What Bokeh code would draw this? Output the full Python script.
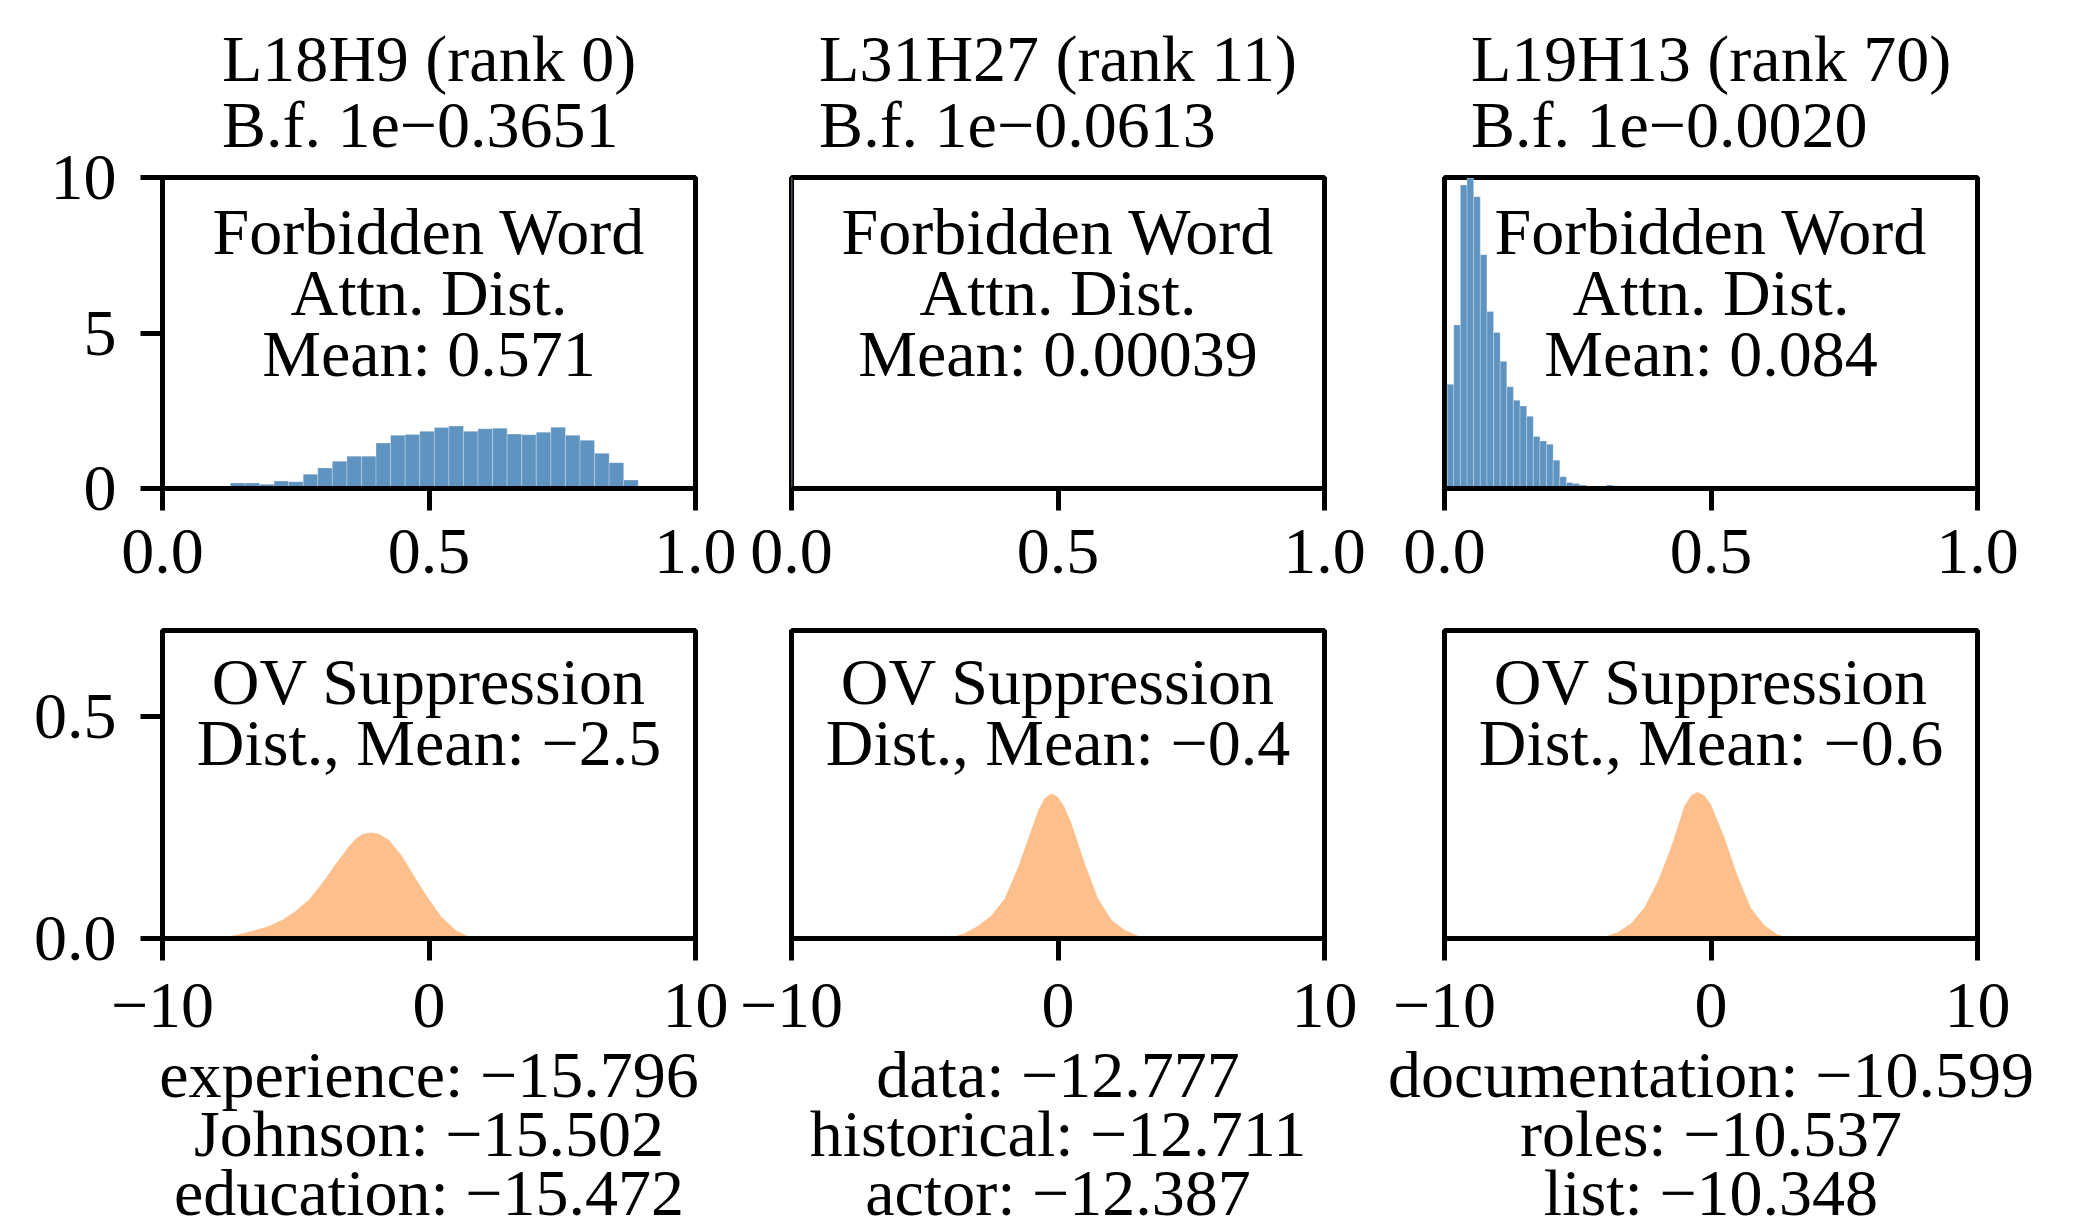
from bokeh.plotting import figure
from bokeh.layouts import row, column
from bokeh.models import FixedTicker, Label, Range1d
from bokeh.embed import file_html
from bokeh.resources import INLINE

# ---------------- data ----------------
head_names = ["L18H9 (rank 0)", "L31H27 (rank 11)", "L19H13 (rank 70)"]
bf_values = ["1e−0.3651", "1e−0.0613", "1e−0.0020"]
attn_means = ["0.571", "0.00039", "0.084"]
ov_means = ["−2.5", "−0.4", "−0.6"]

top_words = [["experience", "Johnson", "education"],
             ["data", "historical", "actor"],
             ["documentation", "roles", "list"]]
top_scores = [["−15.796", "−15.502", "−15.472"],
              ["−12.777", "−12.711", "−12.387"],
              ["−10.599", "−10.537", "−10.348"]]

# Forbidden-word attention histograms (density), bin start / width / heights
attn_bin_start = [0.100, 0.000, 0.005]
attn_bin_width = [0.02733, 0.001, 0.01243]
attn_L18H9 = [0.05, 0.18, 0.18, 0.14, 0.24, 0.22, 0.46, 0.66, 0.88, 1.04,
              1.04, 1.46, 1.71, 1.74, 1.84, 1.96, 2.01, 1.84, 1.92, 1.94,
              1.75, 1.73, 1.81, 1.97, 1.71, 1.55, 1.13, 0.83, 0.27, 0.05]
attn_L31H27 = [1000.0]
attn_L19H13 = [3.35, 5.26, 9.76, 9.98, 9.38, 7.52, 5.69, 5.02, 4.09, 3.27,
               2.84, 2.65, 2.32, 1.67, 1.53, 1.42, 0.91, 0.38, 0.19, 0.16,
               0.11, 0.08, 0.08, 0.03, 0.11, 0.09, 0.03]
attn_heights = [attn_L18H9, attn_L31H27, attn_L19H13]

# OV suppression distributions (density)
ov_x_L18H9 = [-8.5, -8.0, -7.5, -7.0, -6.5, -6.0, -5.5, -5.0, -4.5, -4.0, -3.5,
              -3.0, -2.75, -2.5, -2.2, -1.9, -1.5, -1.0, -0.5, 0.0, 0.5, 1.0, 1.5, 2.0]
ov_y_L18H9 = [0.0, 0.001, 0.005, 0.011, 0.019, 0.028, 0.042, 0.062, 0.088, 0.125, 0.168,
              0.208, 0.225, 0.235, 0.239, 0.236, 0.222, 0.185, 0.135, 0.088, 0.047, 0.019, 0.004, 0.0]
ov_x_L31H27 = [-4.5, -4.0, -3.5, -3.0, -2.5, -2.0, -1.5, -1.0, -0.75, -0.5, -0.25,
               0.0, 0.25, 0.5, 1.0, 1.5, 2.0, 2.5, 3.0, 3.5]
ov_y_L31H27 = [0.0, 0.003, 0.012, 0.028, 0.052, 0.090, 0.160, 0.245, 0.288, 0.316, 0.327,
               0.319, 0.296, 0.260, 0.170, 0.090, 0.042, 0.019, 0.006, 0.0]
ov_x_L19H13 = [-4.5, -4.0, -3.5, -3.0, -2.5, -2.0, -1.5, -1.0, -0.75, -0.5, -0.25,
               0.0, 0.5, 1.0, 1.5, 2.0, 2.5, 3.0]
ov_y_L19H13 = [0.0, 0.004, 0.014, 0.034, 0.070, 0.128, 0.205, 0.298, 0.322, 0.330, 0.322,
               0.302, 0.228, 0.140, 0.068, 0.030, 0.009, 0.0]
ov_xs = [ov_x_L18H9, ov_x_L31H27, ov_x_L19H13]
ov_ys = [ov_y_L18H9, ov_y_L31H27, ov_y_L19H13]

attn_xticks = [0.0, 0.5, 1.0]
attn_xtick_labels = ["0.0", "0.5", "1.0"]
attn_yticks = [0, 5, 10]
attn_ytick_labels = ["0", "5", "10"]
ov_xticks = [-10, 0, 10]
ov_xtick_labels = ["−10", "0", "10"]
ov_yticks = [0.0, 0.5]
ov_ytick_labels = ["0.0", "0.5"]

# ---------------- style ----------------
FONT = "Liberation Serif"
FS = "66px"
BLUE = "#5f94c1"
ORANGE = "#fdbf8b"
LW = 5
OV_TOP = 0.694

borders_left = [162, 55, 65]
borders_right = [41, 55, 100]


def style_axes(p, xt, xl, yt, yl, show_y, x_standoff):
    p.grid.visible = False
    p.outline_line_color = "black"
    p.outline_line_width = LW
    p.outline_line_alpha = 1.0
    for ax in p.axis:
        ax.axis_line_width = LW
        ax.axis_line_color = "black"
        ax.major_tick_line_width = LW
        ax.major_tick_line_color = "black"
        ax.major_tick_out = 22
        ax.major_tick_in = 0
        ax.minor_tick_line_color = None
        ax.major_label_text_font = FONT
        ax.major_label_text_font_size = FS
        ax.major_label_text_color = "black"
    p.xaxis.ticker = FixedTicker(ticks=xt)
    p.xaxis.major_label_overrides = dict(zip(xt, xl))
    p.xaxis.major_label_standoff = x_standoff
    p.yaxis.ticker = FixedTicker(ticks=yt)
    p.yaxis.major_label_overrides = dict(zip(yt, yl))
    p.yaxis.major_label_standoff = 24
    if not show_y:
        p.yaxis.visible = False


def text_label(x, y, text, lh=0.835):
    return Label(x=x, y=y, text=text, text_align="center", text_baseline="middle",
                 text_font=FONT, text_font_size=FS, text_color="black",
                 text_line_height=lh)


top_figs = []
for i in range(3):
    p = figure(frame_width=533, frame_height=311,
               x_range=Range1d(0, 1), y_range=Range1d(0, 10),
               min_border_left=borders_left[i], min_border_right=borders_right[i],
               min_border_top=177, min_border_bottom=120,
               output_backend="svg", toolbar_location=None)
    h = attn_heights[i]
    lefts = [attn_bin_start[i] + k * attn_bin_width[i] for k in range(len(h))]
    rights = [l + attn_bin_width[i] for l in lefts]
    p.quad(left=lefts, right=rights, bottom=0, top=h,
           fill_color=BLUE, line_color="white", line_alpha=0.25, line_width=1)
    style_axes(p, attn_xticks, attn_xtick_labels, attn_yticks, attn_ytick_labels, i == 0, 19)
    p.title.text = head_names[i] + "\nB.f. " + bf_values[i]
    p.title.align = "center"
    p.title.text_font = FONT
    p.title.text_font_size = FS
    p.title.text_font_style = "normal"
    p.title.text_color = "black"
    p.title.text_line_height = 0.917
    p.title.standoff = 32
    p.add_layout(text_label(0.5, 6.3, "Forbidden Word\nAttn. Dist.\nMean: " + attn_means[i]))
    top_figs.append(p)

bot_figs = []
for i in range(3):
    p = figure(frame_width=533, frame_height=308,
               x_range=Range1d(-10, 10), y_range=Range1d(0, OV_TOP),
               min_border_left=borders_left[i], min_border_right=borders_right[i],
               min_border_top=22, min_border_bottom=200,
               output_backend="svg", toolbar_location=None)
    p.varea(x=ov_xs[i], y1=0, y2=ov_ys[i], fill_color=ORANGE)
    style_axes(p, ov_xticks, ov_xtick_labels, ov_yticks, ov_ytick_labels, i == 0, 23)
    p.add_layout(text_label(0, 0.51, "OV Suppression\nDist., Mean: " + ov_means[i]))
    # top suppressed words listed under the x axis
    p.xaxis.axis_label = "\n".join(f"{w}: {s}" for w, s in zip(top_words[i], top_scores[i]))
    p.xaxis.axis_label_text_font = FONT
    p.xaxis.axis_label_text_font_size = FS
    p.xaxis.axis_label_text_font_style = "normal"
    p.xaxis.axis_label_text_color = "black"
    p.xaxis.axis_label_text_line_height = 0.81
    p.xaxis.axis_label_standoff = 8
    bot_figs.append(p)

layout = column(row(*top_figs), row(*bot_figs))
open("out.html", "w").write(file_html(layout, INLINE))
